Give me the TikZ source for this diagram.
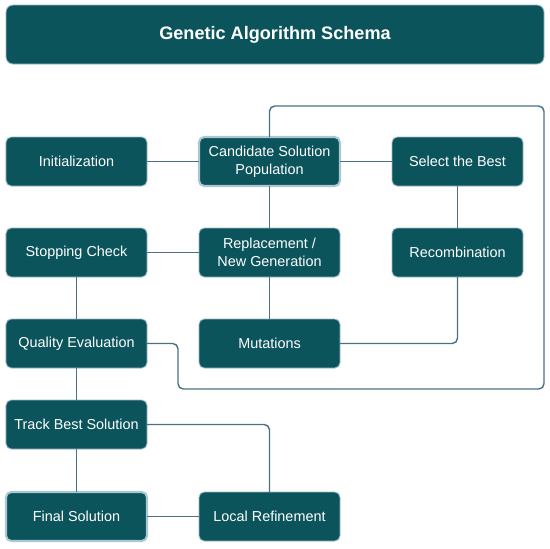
\documentclass[tikz,border=0pt]{standalone}
\usepackage{fontspec}
\setmainfont{Liberation Sans}
\usepackage{xcolor}
\definecolor{boxfill}{RGB}{12,84,92}
\definecolor{boxedge}{RGB}{150,185,200}
\definecolor{linkcol}{RGB}{74,112,130}
\usepackage{tikz}
\usetikzlibrary{positioning,calc}
\tikzset{
  ga_title/.style={rectangle,rounded corners=4pt,
    draw=boxedge,line width=0.5pt,fill=boxfill,
    text=white,align=center,
    font=\fontsize{10.3}{12}\selectfont\bfseries,
    minimum width=10.76cm,minimum height=1.18cm,inner sep=0pt},
  ga_box/.style={rectangle,rounded corners=3pt,
    draw=boxedge,line width=0.5pt,fill=boxfill,
    text=white,align=center,outer sep=0pt,
    font=\fontsize{8.2}{10}\selectfont,
    minimum width=2.82cm,minimum height=0.98cm,inner sep=1pt},
  ga_narrow/.style={ga_box,minimum width=2.62cm},
  ga_key/.style={ga_box,line width=1.2pt,draw=boxedge!80},
  link/.style={draw=linkcol,line width=0.8pt,rounded corners=3pt},
}
\begin{document}
\begin{tikzpicture}[node distance=0.84cm]
  \useasboundingbox (0,0) rectangle (11,-10.96);
  % Title banner
  \node (title) [ga_title] at (5.5,-0.69) {Genetic Algorithm Schema};
  % Main loop
  \node (init) [ga_box] at (1.53,-3.23) {Initialization};
  \node (cand) [ga_key, right=1.04cm of init] {Candidate Solution\\ Population};
  \node (sel) [ga_narrow, right=1.04cm of cand] {Select the Best};
  \node (stop) [ga_box, below=of init] {Stopping Check};
  \node (repl) [ga_box, right=1.04cm of stop] {Replacement /\\ New Generation};
  \node (recomb) [ga_narrow, below=of sel] {Recombination};
  \node (qual) [ga_box, below=0.84cm of stop] {Quality Evaluation};
  \node (mut) [ga_box, right=1.04cm of qual] {Mutations};
  % Final phase
  \node (track) [ga_box, below=0.64cm of qual] {Track Best Solution};
  \node (final) [ga_key, below=0.86cm of track] {Final Solution};
  \node (local) [ga_box, right=1.04cm of final] {Local Refinement};

  \draw[link] (init)--(cand); \draw[link] (cand)--(sel);
  \draw[link] (sel)--(recomb); \draw[link] (recomb.south) |- (mut.east);
  \draw[link] (cand)--(repl); \draw[link] (repl)--(mut);
  \draw[link] (repl)--(stop); \draw[link] (stop)--(qual);
  \draw[link] (qual)--(track); \draw[link] (track)--(final);
  \draw[link] (final)--(local);
  \draw[link] (track.east) -| (local.north);
  % Outer feedback loop
  \coordinate (loop_se) at (10.88,-7.78);
  \coordinate (loop_ne) at (10.88,-2.12);
  \draw[link] (qual.east) -- ++(0.62,0) |- (loop_se) -- (loop_ne) -| (cand.north);
\end{tikzpicture}
\end{document}
